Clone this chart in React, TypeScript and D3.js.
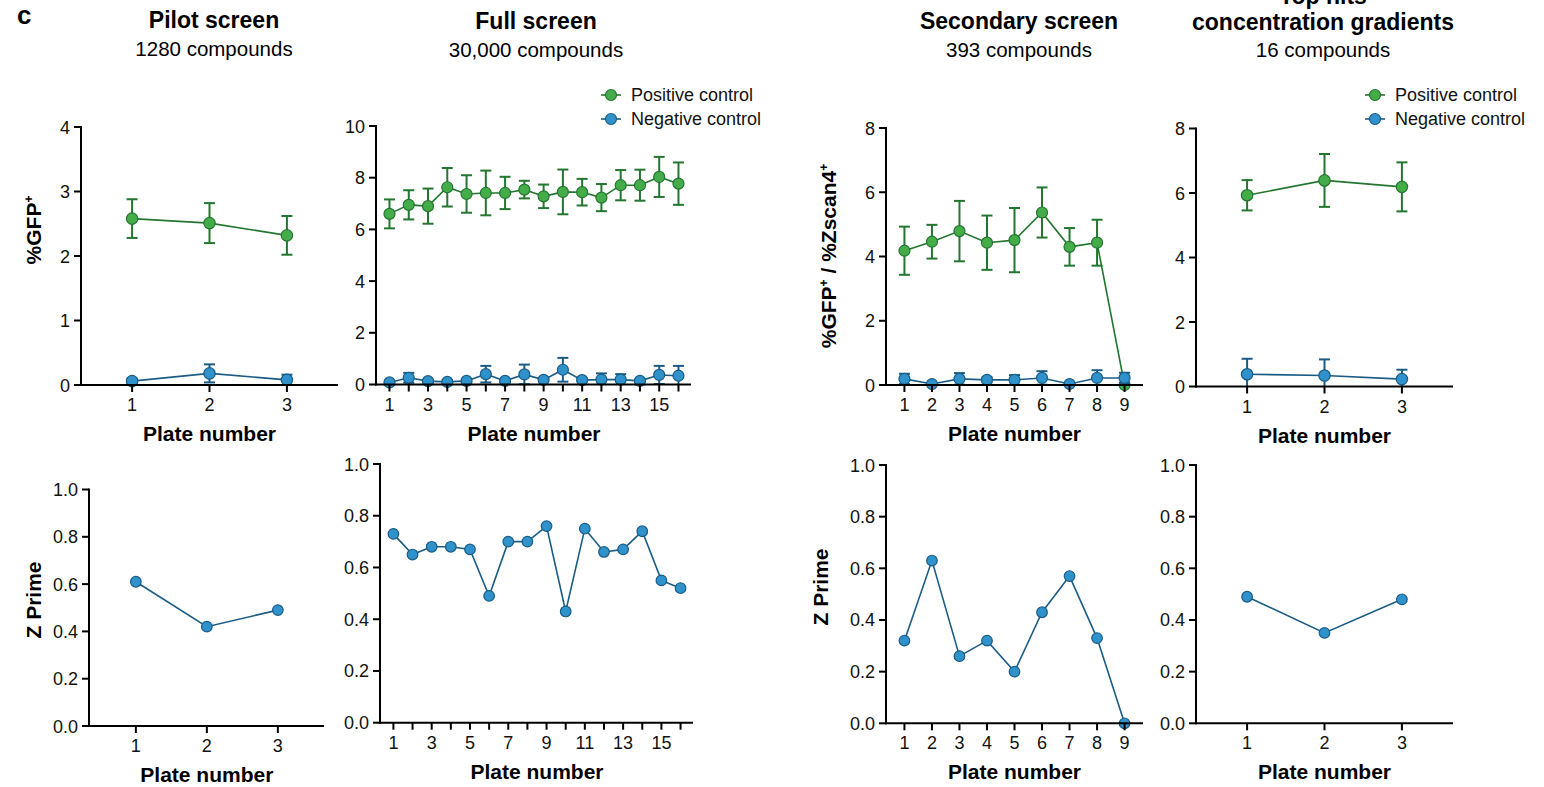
import React from "react";
import * as d3 from "d3";

// ---------------- DATA ----------------
const pilotPlates = [1, 2, 3];
const pilotPos = [2.58, 2.51, 2.32];
const pilotPosErr = [0.3, 0.31, 0.3];
const pilotNeg = [0.06, 0.18, 0.08];
const pilotNegErr = [0.04, 0.14, 0.08];
const pilotZ = [0.61, 0.42, 0.49];

const fullPlates = [1, 2, 3, 4, 5, 6, 7, 8, 9, 10, 11, 12, 13, 14, 15, 16];
const fullPos = [6.6, 6.95, 6.9, 7.63, 7.37, 7.41, 7.41, 7.54, 7.28, 7.45, 7.44, 7.23, 7.71, 7.71, 8.03, 7.77];
const fullPosErr = [0.56, 0.565, 0.68, 0.745, 0.725, 0.865, 0.625, 0.34, 0.455, 0.865, 0.515, 0.525, 0.585, 0.6, 0.775, 0.82];
const fullNeg = [0.08, 0.26, 0.13, 0.1, 0.14, 0.4, 0.14, 0.39, 0.18, 0.57, 0.17, 0.19, 0.19, 0.14, 0.37, 0.34];
const fullNegErr = [0.05, 0.19, 0.05, 0.05, 0.05, 0.32, 0.05, 0.38, 0.05, 0.46, 0.05, 0.24, 0.21, 0.05, 0.35, 0.38];
const fullZ = [0.73, 0.65, 0.68, 0.68, 0.67, 0.49, 0.7, 0.7, 0.76, 0.43, 0.75, 0.66, 0.67, 0.74, 0.55, 0.52];

const secPlates = [1, 2, 3, 4, 5, 6, 7, 8, 9];
const secPos = [4.18, 4.46, 4.79, 4.43, 4.51, 5.37, 4.3, 4.43, 0.0];
const secPosErr = [0.75, 0.525, 0.94, 0.845, 1.0, 0.78, 0.585, 0.715, 0.0];
const secNeg = [0.19, 0.03, 0.19, 0.16, 0.16, 0.22, 0.03, 0.22, 0.22];
const secNegErr = [0.16, 0.03, 0.18, 0.08, 0.15, 0.21, 0.03, 0.24, 0.16];
const secZ = [0.32, 0.63, 0.26, 0.32, 0.2, 0.43, 0.57, 0.33, 0.0];

const hitPlates = [1, 2, 3];
const hitPos = [5.93, 6.39, 6.19];
const hitPosErr = [0.47, 0.82, 0.76];
const hitNeg = [0.38, 0.34, 0.23];
const hitNegErr = [0.48, 0.5, 0.29];
const hitZ = [0.49, 0.35, 0.48];

const ticks4 = [0, 1, 2, 3, 4];
const ticks10 = [0, 2, 4, 6, 8, 10];
const ticks8 = [0, 2, 4, 6, 8];
const ticksZ = [0, 0.2, 0.4, 0.6, 0.8, 1.0];
const fullLabelTicks = [1, 3, 5, 7, 9, 11, 13, 15];

const legendLabels = ["Positive control", "Negative control"];

// ---------------- STYLE ----------------
const FONT = "'Liberation Sans', Arial, Helvetica, sans-serif";
const GREEN_FILL = "#44ad4a";
const GREEN_STROKE = "#23762f";
const BLUE_FILL = "#2f92cb";
const BLUE_STROKE = "#1a5c85";
const TICK_FS = 18;

type Series = { x: number[]; y: number[]; err?: number[]; fill: string; stroke: string };

type PanelProps = {
  x0: number; x1: number; yTop: number; yBot: number;
  xDomain: [number, number]; yMax: number;
  yTicks: number[]; xTicks: number[]; xLabelTicks: number[];
  yFmt: (v: number) => string;
  series: Series[];
  r: number;
};

function Panel(p: PanelProps) {
  const xs = d3.scaleLinear().domain(p.xDomain).range([p.x0, p.x1]);
  const ys = d3.scaleLinear().domain([0, p.yMax]).range([p.yBot, p.yTop]);
  const line = d3.line<[number, number]>().x((d) => xs(d[0])).y((d) => ys(d[1]));
  return (
    <g>
      {p.series.map((s, si) => {
        const pts = s.x.map((x, i) => [x, s.y[i]] as [number, number]);
        return (
          <g key={si}>
            <path d={line(pts) || ""} fill="none" stroke={s.stroke} strokeWidth={1.6} />
            {s.err &&
              s.x.map((x, i) => {
                const e = s.err![i];
                if (e <= 0) return null;
                const hi = ys(s.y[i] + e);
                const lo = ys(Math.max(0, s.y[i] - e));
                const cx = xs(x);
                return (
                  <g key={i} stroke={s.stroke} strokeWidth={2}>
                    <line x1={cx} x2={cx} y1={hi} y2={lo} />
                    <line x1={cx - 5.5} x2={cx + 5.5} y1={hi} y2={hi} />
                    {s.y[i] - e > 0 && <line x1={cx - 5.5} x2={cx + 5.5} y1={lo} y2={lo} />}
                  </g>
                );
              })}
            {s.x.map((x, i) => (
              <circle key={i} cx={xs(x)} cy={ys(s.y[i])} r={p.r} fill={s.fill} stroke={s.stroke} strokeWidth={1.2} />
            ))}
          </g>
        );
      })}
      {/* axes */}
      <line x1={p.x0} x2={p.x0} y1={p.yTop - 1} y2={p.yBot + 1} stroke="#000" strokeWidth={2} />
      <line x1={p.x0 - 1} x2={p.x1} y1={p.yBot} y2={p.yBot} stroke="#000" strokeWidth={2} />
      {p.yTicks.map((t) => (
        <g key={"y" + t}>
          <line x1={p.x0 - 7} x2={p.x0} y1={ys(t)} y2={ys(t)} stroke="#000" strokeWidth={2} />
          <text x={p.x0 - 11} y={ys(t) + 6.5} textAnchor="end" fontSize={TICK_FS} fontFamily={FONT} fill="#111">
            {p.yFmt(t)}
          </text>
        </g>
      ))}
      {p.xTicks.map((t) => (
        <line key={"x" + t} x1={xs(t)} x2={xs(t)} y1={p.yBot} y2={p.yBot + 7} stroke="#000" strokeWidth={2} />
      ))}
      {p.xLabelTicks.map((t) => (
        <text key={"xl" + t} x={xs(t)} y={p.yBot + 26} textAnchor="middle" fontSize={TICK_FS} fontFamily={FONT} fill="#111">
          {t}
        </text>
      ))}
      <text x={(xs(p.xLabelTicks[0]) + xs(p.xTicks[p.xTicks.length - 1])) / 2} y={p.yBot + 56} textAnchor="middle"
        fontSize={21} fontWeight="bold" fontFamily={FONT} fill="#000">
        Plate number
      </text>
    </g>
  );
}

function Legend({ x, y }: { x: number; y: number }) {
  const cols = [
    { fill: GREEN_FILL, stroke: GREEN_STROKE },
    { fill: BLUE_FILL, stroke: BLUE_STROKE },
  ];
  return (
    <g>
      {legendLabels.map((l, i) => (
        <g key={l} transform={`translate(${x},${y + i * 24})`}>
          <line x1={-10} x2={10} y1={0} y2={0} stroke={cols[i].stroke} strokeWidth={1.6} />
          <circle cx={0} cy={0} r={5.5} fill={cols[i].fill} stroke={cols[i].stroke} strokeWidth={1.2} />
          <text x={20} y={6} fontSize={18} fontFamily={FONT} fill="#111">{l}</text>
        </g>
      ))}
    </g>
  );
}

function Sup({ children }: { children: React.ReactNode }) {
  return <tspan fontSize={12} dy={-8}>{children}</tspan>;
}

export default function App() {
  const intFmt = (v: number) => String(v);
  const zFmt = (v: number) => v.toFixed(1);
  const pos = (x: number[], y: number[], err: number[]): Series => ({ x, y, err, fill: GREEN_FILL, stroke: GREEN_STROKE });
  const neg = (x: number[], y: number[], err?: number[]): Series => ({ x, y, err, fill: BLUE_FILL, stroke: BLUE_STROKE });

  const titleProps = { textAnchor: "middle" as const, fontFamily: FONT, fill: "#000" };

  return (
    <div style={{ position: "absolute", left: 0, top: 0 }}>
      <svg width={1544} height={787} style={{ display: "block", background: "#fff" }}>
        <text x={17} y={24} fontSize={26} fontWeight="bold" fontFamily={FONT}>c</text>

        {/* titles */}
        <text x={214} y={28} fontSize={23} fontWeight="bold" {...titleProps}>Pilot screen</text>
        <text x={214} y={56} fontSize={20.5} {...titleProps}>1280 compounds</text>
        <text x={536} y={29} fontSize={23} fontWeight="bold" {...titleProps}>Full screen</text>
        <text x={536} y={57} fontSize={20.5} {...titleProps}>30,000 compounds</text>
        <text x={1019} y={29} fontSize={23} fontWeight="bold" {...titleProps}>Secondary screen</text>
        <text x={1019} y={57} fontSize={20.5} {...titleProps}>393 compounds</text>
        <text x={1323} y={4} fontSize={23} fontWeight="bold" {...titleProps}>Top hits</text>
        <text x={1323} y={30} fontSize={23} fontWeight="bold" {...titleProps}>concentration gradients</text>
        <text x={1323} y={57} fontSize={20.5} {...titleProps}>16 compounds</text>

        {/* y labels */}
        <text transform="translate(41,230) rotate(-90)" fontSize={21} fontWeight="bold" {...titleProps}>
          %GFP<Sup>+</Sup>
        </text>
        <text transform="translate(836,256) rotate(-90)" fontSize={21} fontWeight="bold" {...titleProps}>
          %GFP<Sup>+</Sup><tspan dy={8}> / %Zscan4</tspan><Sup>+</Sup>
        </text>
        <text transform="translate(41,600) rotate(-90)" fontSize={21} fontWeight="bold" {...titleProps}>Z Prime</text>
        <text transform="translate(828,587) rotate(-90)" fontSize={21} fontWeight="bold" {...titleProps}>Z Prime</text>

        {/* top row */}
        <Panel x0={81} x1={338} yTop={127} yBot={385} xDomain={[0.34, 3.66]} yMax={4}
          yTicks={ticks4} xTicks={pilotPlates} xLabelTicks={pilotPlates} yFmt={intFmt} r={5.7}
          series={[pos(pilotPlates, pilotPos, pilotPosErr), neg(pilotPlates, pilotNeg, pilotNegErr)]} />
        <Panel x0={376} x1={691} yTop={126} yBot={384.5} xDomain={[0.3, 16.65]} yMax={10}
          yTicks={ticks10} xTicks={fullPlates} xLabelTicks={fullLabelTicks} yFmt={intFmt} r={5.5}
          series={[pos(fullPlates, fullPos, fullPosErr), neg(fullPlates, fullNeg, fullNegErr)]} />
        <Panel x0={886} x1={1143} yTop={128} yBot={385} xDomain={[0.33, 9.67]} yMax={8}
          yTicks={ticks8} xTicks={secPlates} xLabelTicks={secPlates} yFmt={intFmt} r={5.5}
          series={[pos(secPlates, secPos, secPosErr), neg(secPlates, secNeg, secNegErr)]} />
        <Panel x0={1196} x1={1453} yTop={128.5} yBot={386.5} xDomain={[0.34, 3.66]} yMax={8}
          yTicks={ticks8} xTicks={hitPlates} xLabelTicks={hitPlates} yFmt={intFmt} r={5.7}
          series={[pos(hitPlates, hitPos, hitPosErr), neg(hitPlates, hitNeg, hitNegErr)]} />

        {/* bottom row */}
        <Panel x0={89} x1={324} yTop={489.5} yBot={726} xDomain={[0.34, 3.65]} yMax={1}
          yTicks={ticksZ} xTicks={pilotPlates} xLabelTicks={pilotPlates} yFmt={zFmt} r={5.3}
          series={[neg(pilotPlates, pilotZ)]} />
        <Panel x0={380} x1={693} yTop={464} yBot={722.7} xDomain={[0.3, 16.65]} yMax={1}
          yTicks={ticksZ} xTicks={fullPlates} xLabelTicks={fullLabelTicks} yFmt={zFmt} r={5.3}
          series={[neg(fullPlates, fullZ)]} />
        <Panel x0={886} x1={1143} yTop={465} yBot={723.3} xDomain={[0.33, 9.67]} yMax={1}
          yTicks={ticksZ} xTicks={secPlates} xLabelTicks={secPlates} yFmt={zFmt} r={5.3}
          series={[neg(secPlates, secZ)]} />
        <Panel x0={1196} x1={1453} yTop={465} yBot={723.3} xDomain={[0.34, 3.66]} yMax={1}
          yTicks={ticksZ} xTicks={hitPlates} xLabelTicks={hitPlates} yFmt={zFmt} r={5.3}
          series={[neg(hitPlates, hitZ)]} />

        <Legend x={611} y={95} />
        <Legend x={1375} y={95} />
      </svg>
    </div>
  );
}
